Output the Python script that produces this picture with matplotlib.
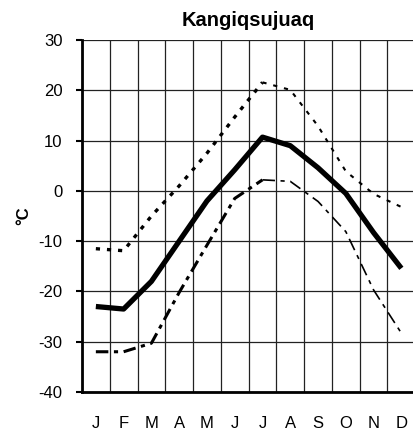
import matplotlib
matplotlib.use("Agg")
from matplotlib import pyplot as plt
import numpy as np

plt.rcParams['font.family'] = ['Liberation Sans', 'DejaVu Sans']
plt.rcParams['lines.scale_dashes'] = False
plt.rcParams['axes.unicode_minus'] = False

months = ['J', 'F', 'M', 'A', 'M', 'J', 'J', 'A', 'S', 'O', 'N', 'D']
t_mean = [-23.0, -23.5, -18.0, -10.0, -2.0, 4.2, 10.7, 9.0, 4.6, -0.5, -8.3, -15.4]
t_max = [-11.5, -11.9, -5.0, 1.0, 7.5, 14.7, 21.6, 20.1, 12.9, 3.9, -0.6, -3.2]
t_min = [-32.0, -32.0, -30.3, -20.2, -10.8, -1.5, 2.2, 1.9, -2.1, -8.1, -19.7, -28.3]

x = np.arange(len(months)) + 0.5

fig = plt.figure(figsize=(4.14, 4.36), dpi=100)
ax = fig.add_axes([0.198, 0.101, 0.805, 0.807])

# grid
for gx in range(0, 13):
    ax.axvline(gx, color='#222222', lw=0.9, zorder=1)
for gy in range(-40, 31, 10):
    ax.axhline(gy, color='#222222', lw=0.9, zorder=1)

# max (dotted, thinner after July)
ax.plot(x[:7], t_max[:7], color='black', lw=2.4, dashes=(3, 5), zorder=3)
ax.plot(x[6:], t_max[6:], color='black', lw=1.5, dashes=(3, 5), zorder=3)
# min (dash-dot, thinner after July)
ax.plot(x[:7], t_min[:7], color='black', lw=2.2, dashes=(9, 4, 3, 4), zorder=3)
ax.plot(x[6:], t_min[6:], color='black', lw=1.2, dashes=(9, 4, 3, 4), zorder=3)
# mean
ax.plot(x, t_mean, color='black', lw=3.8, solid_capstyle='butt', zorder=4)

ax.set_xlim(0, 12)
ax.set_ylim(-40, 30)
ax.set_yticks(range(-40, 31, 10))
ax.set_xticks(x)
ax.set_xticklabels(months)
ax.tick_params(axis='y', length=4, width=1.5, pad=10, labelsize=12)
ax.tick_params(axis='x', length=0, pad=17, labelsize=12)

for s in ['top', 'right']:
    ax.spines[s].set_visible(False)
ax.spines['left'].set_linewidth(2)
ax.spines['bottom'].set_linewidth(2)

ax.set_title('Kangiqsujuaq', fontsize=14.5, fontweight='bold', pad=10)
ax.set_ylabel('°C', fontsize=12, fontweight='bold', labelpad=5)

fig.savefig('out.png', dpi=100)
